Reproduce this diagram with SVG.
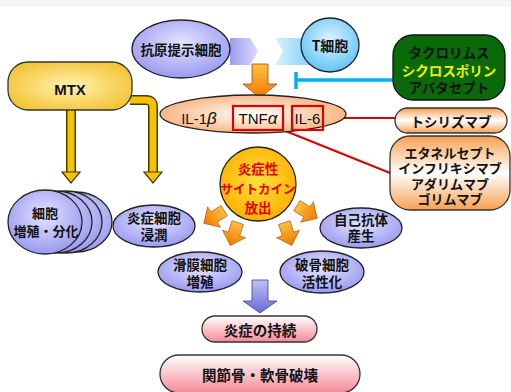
<svg xmlns="http://www.w3.org/2000/svg" width="511" height="392" viewBox="0 0 511 392">
<defs>
<radialGradient id="lav" cx="50%" cy="40%" r="60%"><stop offset="0" stop-color="#e4e4ff"/><stop offset="1" stop-color="#9a9af0"/></radialGradient>
<radialGradient id="tcell" cx="50%" cy="40%" r="60%"><stop offset="0" stop-color="#e0f4ff"/><stop offset="1" stop-color="#60c4f4"/></radialGradient>
<radialGradient id="peach" cx="50%" cy="50%" r="55%"><stop offset="0" stop-color="#ffffff"/><stop offset="1" stop-color="#f8b07a"/></radialGradient>
<linearGradient id="orv" x1="0" y1="0" x2="0" y2="1"><stop offset="0" stop-color="#f8a050"/><stop offset="0.5" stop-color="#ffffff"/><stop offset="1" stop-color="#f8a050"/></linearGradient>
<radialGradient id="gold" cx="50%" cy="50%" r="60%"><stop offset="0" stop-color="#fff2b0"/><stop offset="1" stop-color="#f2c230"/></radialGradient>
<radialGradient id="sun" cx="50%" cy="45%" r="55%"><stop offset="0" stop-color="#ffe040"/><stop offset="1" stop-color="#ffb000"/></radialGradient>
<linearGradient id="pink" x1="0" y1="0" x2="0" y2="1"><stop offset="0" stop-color="#ffffff"/><stop offset="1" stop-color="#f58a9a"/></linearGradient>
<linearGradient id="oarr" x1="0" y1="0" x2="0" y2="1"><stop offset="0" stop-color="#ffc040"/><stop offset="1" stop-color="#f07800"/></linearGradient>
<linearGradient id="parr" x1="0" y1="0" x2="0" y2="1"><stop offset="0" stop-color="#c0c0f8"/><stop offset="1" stop-color="#6a6ad8"/></linearGradient>
<linearGradient id="chevL" x1="0" y1="0" x2="1" y2="0"><stop offset="0" stop-color="#9c9cf0"/><stop offset="1" stop-color="#dcdcfa"/></linearGradient>
<linearGradient id="chevR" x1="0" y1="0" x2="1" y2="0"><stop offset="0" stop-color="#d8f0ff"/><stop offset="1" stop-color="#80d0f8"/></linearGradient>
<path id="oa" d="M-6,-12 L6,-12 L6,0 L12,0 L0,12 L-12,0 L-6,0 Z"/>
</defs>
<style>
text{font-family:"Noto Sans CJK JP","Liberation Sans",sans-serif;font-weight:bold;text-anchor:middle;dominant-baseline:central;fill:#111}
.l{font-family:"Liberation Sans",sans-serif;font-weight:normal}
.e{stroke:#222;stroke-width:1.3}
.r{fill:#e00000}
.o{fill:url(#oarr);stroke:#a05000;stroke-width:0.6}
</style>
<rect width="511" height="392" fill="#ffffff"/>
<rect width="511" height="7" fill="#f4f4f9"/>

<g id="connectors">
<path d="M230,38 L250,38 L258,51 L250,65 L230,65 Z" fill="url(#chevL)"/>
<path d="M275,38 L312,38 L312,65 L275,65 L283,51 Z" fill="url(#chevR)"/>
<path d="M252,64 L268,64 L268,84 L277,84 L260,98 L243,84 L252,84 Z" fill="url(#oarr)" stroke="#a05000" stroke-width="0.8"/>
<path d="M393,80 L296,80 M296,72 L296,89" fill="none" stroke="#00b0f0" stroke-width="3.5"/>
<path d="M323,118 L396,118" stroke="#e00000" stroke-width="2"/>
<path d="M283,130 L390,173" stroke="#e00000" stroke-width="2"/>
<path d="M130,100 L146,100 Q153,100 153,107 L153,172" fill="none" stroke="#4a3a00" stroke-width="10"/>
<path d="M130,100 L146,100 Q153,100 153,107 L153,173" fill="none" stroke="#f5c400" stroke-width="7"/>
<path d="M144,172 L162,172 L153,183 Z" fill="#f5c400" stroke="#4a3a00" stroke-width="1.2"/>
<path d="M71,109 L71,172" fill="none" stroke="#4a3a00" stroke-width="10"/>
<path d="M71,109 L71,173" fill="none" stroke="#f5c400" stroke-width="7"/>
<path d="M62,172 L80,172 L71,183 Z" fill="#f5c400" stroke="#4a3a00" stroke-width="1.2"/>
<use href="#oa" class="o" transform="translate(214,217) rotate(58)"/>
<use href="#oa" class="o" transform="translate(234,234) rotate(18)"/>
<use href="#oa" class="o" transform="translate(288,234) rotate(-18)"/>
<use href="#oa" class="o" transform="translate(307,212) rotate(-58)"/>
<path d="M252,280 L268,280 L268,301 L277,301 L260,313 L243,301 L252,301 Z" fill="url(#parr)" stroke="#404090" stroke-width="0.8"/>
</g>

<g id="apc"><ellipse cx="181" cy="49" rx="49" ry="29" fill="url(#lav)" class="e"/><text x="181" y="49" font-size="13.5">抗原提示細胞</text></g>
<g id="tcell"><ellipse cx="330" cy="45" rx="29" ry="27" fill="url(#tcell)" class="e"/><text x="330" y="45" font-size="14">T細胞</text></g>
<g id="immuno"><rect x="393" y="35" width="112" height="65" rx="20" fill="#0a6a0a" stroke="#111" stroke-width="1.3"/>
<text x="449" y="52" font-size="13.5">タクロリムス</text><text x="449" y="69.5" font-size="13.5" style="fill:#f0f000">シクロスポリン</text><text x="449" y="87" font-size="13.5">アバタセプト</text></g>
<g id="mtx"><rect x="8" y="62" width="124" height="48" rx="20" fill="url(#gold)" stroke="#333" stroke-width="1.3"/><text x="70" y="89" font-size="15" style="font-family:'Liberation Sans',sans-serif">MTX</text></g>
<g id="cytokines"><ellipse cx="253" cy="114" rx="93" ry="19" fill="url(#peach)" class="e"/>
<text x="199" y="118" font-size="15" class="l">IL-1<tspan font-style="italic" font-size="17">β</tspan></text>
<rect x="233" y="106" width="50" height="24" fill="none" stroke="#e00000" stroke-width="2.2"/>
<text x="258" y="118" font-size="15" class="l">TNF<tspan font-style="italic" font-size="17">α</tspan></text>
<rect x="292" y="106" width="31" height="24" fill="none" stroke="#e00000" stroke-width="2.2"/>
<text x="307.5" y="118" font-size="15" class="l">IL-6</text></g>
<g id="tocilizumab"><rect x="395" y="108" width="112" height="25" rx="12.5" fill="url(#orv)" stroke="#333" stroke-width="1.3"/><text x="451" y="121" font-size="13.5">トシリズマブ</text></g>
<g id="antitnf"><rect x="390" y="136" width="120" height="74" rx="20" fill="url(#orv)" stroke="#333" stroke-width="1.3"/>
<text x="450" y="152" font-size="13">エタネルセプト</text><text x="450" y="167.5" font-size="13">インフリキシマブ</text><text x="450" y="183" font-size="13">アダリムマブ</text><text x="450" y="198.5" font-size="13">ゴリムマブ</text></g>
<g id="prolif">
<ellipse cx="76" cy="222" rx="36" ry="30" fill="url(#lav)" class="e"/>
<ellipse cx="66" cy="222" rx="36" ry="31" fill="url(#lav)" class="e"/>
<ellipse cx="56" cy="222" rx="36" ry="31" fill="url(#lav)" class="e"/>
<ellipse cx="45" cy="222" rx="37" ry="32" fill="url(#lav)" class="e"/>
<text x="45" y="212" font-size="13">細胞</text><text x="46" y="230" font-size="13">増殖・分化</text></g>
<g id="infiltration"><ellipse cx="154" cy="226" rx="41" ry="21" fill="url(#lav)" class="e"/><text x="154" y="217" font-size="13.5">炎症細胞</text><text x="154" y="234" font-size="13.5">浸潤</text></g>
<g id="release"><ellipse cx="258" cy="184" rx="38" ry="37" fill="url(#sun)" class="e"/>
<text x="258" y="168" font-size="13.5" class="r">炎症性</text><text x="258" y="188" font-size="12.5" class="r">サイトカイン</text><text x="258" y="207" font-size="13.5" class="r">放出</text></g>
<g id="autoab"><ellipse cx="361" cy="228" rx="41" ry="20" fill="url(#lav)" class="e"/><text x="361" y="219" font-size="13.5">自己抗体</text><text x="361" y="235" font-size="13.5">産生</text></g>
<g id="synovial"><ellipse cx="200" cy="272" rx="42" ry="20" fill="url(#lav)" class="e"/><text x="200" y="264" font-size="13.5">滑膜細胞</text><text x="200" y="281" font-size="13.5">増殖</text></g>
<g id="osteoclast"><ellipse cx="322" cy="272" rx="42" ry="21" fill="url(#lav)" class="e"/><text x="322" y="264" font-size="13.5">破骨細胞</text><text x="322" y="281" font-size="13.5">活性化</text></g>
<g id="persist"><rect x="202" y="316" width="115" height="26" rx="13" fill="url(#pink)" stroke="#333" stroke-width="1.3"/><text x="260" y="329" font-size="14.5">炎症の持続</text></g>
<g id="destroy"><rect x="160" y="355" width="200" height="38" rx="19" fill="url(#pink)" stroke="#333" stroke-width="1.3"/><text x="260" y="374" font-size="14.5">関節骨・軟骨破壊</text></g>
</svg>
